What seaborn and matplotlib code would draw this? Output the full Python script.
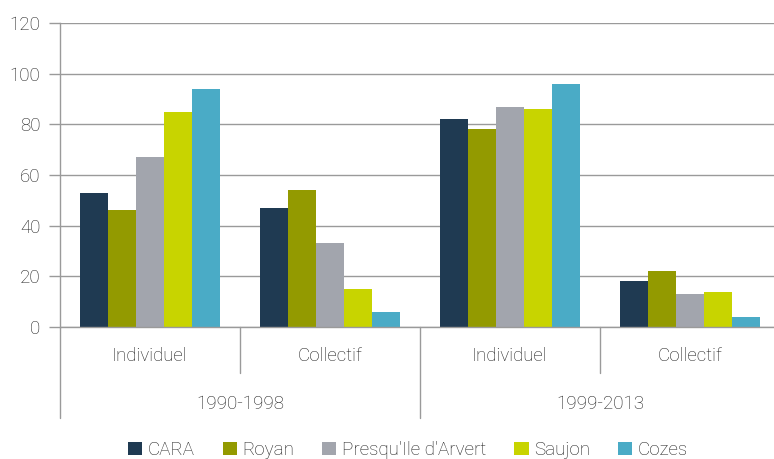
import matplotlib
matplotlib.use("Agg")
import matplotlib.pyplot as plt
from matplotlib.patches import Patch
import seaborn as sns
import pandas as pd

# Parts of new housing by type, per period and territory (%)
periodes = ["1990-1998", "1999-2013"]
types = ["Individuel", "Collectif"]
communes = ["CARA", "Royan", "Presqu'Ile d'Arvert", "Saujon", "Cozes"]
couleurs = ["#1f3a52", "#939a00", "#a2a5ad", "#c8d400", "#4aabc6"]

ind_1990 = [53, 46, 67, 85, 94]
col_1990 = [47, 54, 33, 15, 6]
ind_1999 = [82, 78, 87, 86, 96]
col_1999 = [18, 22, 13, 14, 4]

y_ticks = [0, 20, 40, 60, 80, 100, 120]

series = [ind_1990, col_1990, ind_1999, col_1999]
groupes = [f"{p} {t}" for p in periodes for t in types]
rows = []
for g, vals in zip(groupes, series):
    for c, v in zip(communes, vals):
        rows.append({"groupe": g, "commune": c, "valeur": v})
df = pd.DataFrame(rows)

sns.set_theme(style="white")
plt.rcParams["font.family"] = ["Roboto", "DejaVu Sans"]
plt.rcParams["font.weight"] = "light"
txt = "#1e1e1e"
grid = "#9a9a9a"

fig = plt.figure(figsize=(7.74, 4.59), dpi=100)
W, H = 774, 459
ax = fig.add_axes([60 / W, (H - 327) / H, 720 / W, 304 / H])

sns.barplot(data=df, x="groupe", y="valeur", hue="commune", order=groupes,
            hue_order=communes, palette=couleurs, width=0.78, saturation=1,
            linewidth=0, ax=ax, legend=False, zorder=3)

ax.set_xlim(-0.5, 3.5)
ax.set_ylim(0, 120)
ax.set_yticks(y_ticks)
ax.set_yticklabels([str(t) for t in y_ticks], fontsize=13.5, color=txt)
ax.yaxis.grid(True, color=grid, linewidth=1, zorder=0)
ax.set_axisbelow(True)
ax.tick_params(axis="y", length=8, width=1, color=grid, pad=6, left=True)
ax.tick_params(axis="x", bottom=False, labelbottom=False)
ax.set_xlabel("")
ax.set_ylabel("")
for s in ["top", "right", "bottom"]:
    ax.spines[s].set_visible(False)
ax.spines["left"].set_color(grid)
ax.spines["left"].set_linewidth(1)

# hierarchical category axis below the plot
px = 1 / 304  # one pixel in axes-fraction units (vertical)
trans = ax.get_xaxis_transform()
ax.plot([-0.5, 3.5], [0, 0], color=grid, lw=1, transform=trans, clip_on=False, zorder=4)
ax.plot([-0.5, -0.5], [0, -91 * px], color=grid, lw=1, transform=trans, clip_on=False)
ax.plot([1.5, 1.5], [0, -91 * px], color=grid, lw=1, transform=trans, clip_on=False)
for xd in [0.5, 2.5]:
    ax.plot([xd, xd], [0, -46 * px], color=grid, lw=1, transform=trans, clip_on=False)
for i, g in enumerate(groupes):
    ax.text(i, -29 * px, types[i % 2], transform=trans, ha="center", va="center",
            fontsize=13.5, color=txt)
for j, p in enumerate(periodes):
    ax.text(0.5 + 2 * j, -77 * px, p, transform=trans, ha="center", va="center",
            fontsize=13.5, color=txt)

handles = [Patch(facecolor=c, edgecolor="none") for c in couleurs]
fig.legend(handles, communes, loc="center", bbox_to_anchor=(408 / W, 1 - 450 / H),
           ncol=5, frameon=False, fontsize=13.5, handlelength=0.75, handleheight=0.75,
           handletextpad=0.3, columnspacing=1.5, labelcolor=txt)

fig.savefig("out.png", dpi=100)
